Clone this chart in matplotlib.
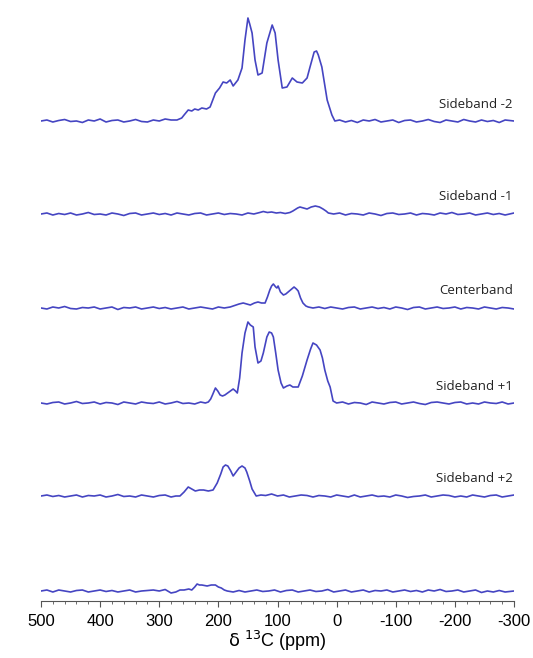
import matplotlib
matplotlib.use("Agg")
import matplotlib.pyplot as plt
from matplotlib.ticker import MultipleLocator

plt.rcParams['font.family'] = ['Liberation Sans Narrow', 'Liberation Sans', 'DejaVu Sans']
plt.rcParams['mathtext.fontset'] = 'custom'
plt.rcParams['mathtext.rm'] = 'Liberation Sans Narrow'
plt.rcParams['mathtext.it'] = 'Liberation Sans Narrow'
plt.rcParams['axes.unicode_minus'] = False

# (ppm, intensity), intensity in arbitrary units
sideband_m2 = [(500, 0), (490, 1), (480, -1), (470, 0.5), (460, 1.5), (450, -0.5), (440, 0), (430, -1.5),
               (420, 1), (410, 0), (400, 2), (390, -1), (380, 0.5), (370, 1), (360, -1), (350, 0),
               (340, 1.5), (330, -0.5), (320, -1), (310, 1), (300, 0), (290, 2), (280, 1), (270, 1),
               (262, 3), (258, 6), (251, 11), (245, 10), (240, 12), (234, 11), (228, 13), (220, 12),
               (214, 14), (205, 28), (198, 33), (192, 39), (186, 38), (180, 41), (175, 35), (167, 41),
               (160, 53), (155, 81), (150, 103), (147, 97), (143, 88), (138, 61), (133, 46), (126, 48),
               (118, 78), (109, 96), (104, 88), (99, 61), (92, 33), (84, 34), (75, 43), (67, 39),
               (58, 38), (50, 43), (45, 54), (38, 69), (34, 70), (31, 66), (25, 54), (16, 21), (8, 6),
               (3, 0), (-5, 1), (-15, -1), (-25, 0.5), (-35, -1.5), (-45, 1), (-55, 0), (-65, 1.5),
               (-75, -1), (-85, 0), (-95, 1), (-105, -1.5), (-115, 0.5), (-125, 1), (-135, -1),
               (-145, 0), (-155, 1.5), (-165, -0.5), (-175, -1.5), (-185, 1), (-195, 0), (-205, -1),
               (-215, 1.5), (-225, 0), (-235, -1), (-245, 1), (-255, -0.5), (-265, 0.5), (-275, -1.5),
               (-285, 1), (-300, 0)]
sideband_m1 = [(500, 0), (490, 1), (480, -1), (470, 0.5), (460, -0.5), (450, 1), (440, -1), (430, 0),
               (420, 1.5), (410, -0.5), (400, 0), (390, -1), (380, 1), (370, 0), (360, -1.5), (350, 0.5),
               (340, 1), (330, -1), (320, 0), (310, 1), (300, -0.5), (290, 0.5), (280, -1), (270, 1),
               (260, 0), (250, -1), (240, 0.5), (230, 1), (220, -1), (210, 0), (200, 1), (190, -0.5),
               (180, 0.5), (170, 0), (160, -1), (150, 1), (140, 0), (130, 1.5), (124, 2.5), (117, 1.5),
               (110, 2), (102, 1), (95, 1.5), (87, 0.5), (79, 1.5), (74, 3), (70, 4.5), (66, 6),
               (62, 7), (56, 6), (50, 5), (43, 7), (36, 8), (29, 7), (23, 5), (18, 3), (14, 1), (5, 0),
               (-5, 1), (-15, -1), (-25, 0.5), (-35, 0), (-45, -1), (-55, 1), (-65, 0), (-75, -1.5),
               (-85, 0.5), (-95, 1), (-105, -0.5), (-115, 0), (-125, 1), (-135, -1), (-145, 0.5),
               (-155, 0), (-165, -1), (-175, 1), (-185, 0), (-195, 1.5), (-205, -0.5), (-215, 0),
               (-225, 1), (-235, -1), (-245, 0), (-255, 1), (-265, -0.5), (-275, 0.5), (-285, -1),
               (-300, 1)]
centerband = [(500, 0), (490, -1), (480, 1), (470, 0), (460, 1.5), (450, -0.5), (440, -1), (430, 0.5),
              (420, 0), (410, 1), (400, -1), (390, 0), (380, 1), (370, -1.5), (360, 0.5), (350, 0),
              (340, 1), (330, -1), (320, 0), (310, 1), (300, -0.5), (290, 0.5), (280, -1), (270, 0),
              (260, 1), (250, -1), (240, 0), (230, 1), (220, 0), (210, -1), (200, 1), (190, 0),
              (180, 1), (175, 2), (170, 3), (165, 4), (158, 5), (152, 4), (146, 3), (139, 5),
              (133, 6), (127, 5), (121, 5), (117, 11), (113, 18), (110, 22), (107, 24), (103, 21),
              (101, 20), (99, 22), (95, 16), (90, 13), (86, 14), (82, 16), (76, 19), (72, 21),
              (68, 19), (65, 17), (61, 10), (57, 5), (52, 2), (48, 1), (40, 0), (30, 1), (20, -0.5),
              (10, 1), (0, 0), (-10, -1), (-20, 0.5), (-30, 1), (-40, -1), (-50, 0), (-60, 1),
              (-70, -0.5), (-80, 0.5), (-90, -1), (-100, 1), (-110, 0), (-120, -1.5), (-130, 0.5),
              (-140, 1), (-150, -1), (-160, 0), (-170, 1), (-180, -0.5), (-190, 0), (-200, 1),
              (-210, -1), (-220, 0.5), (-230, 0), (-240, -1), (-250, 1), (-260, 0), (-270, -1),
              (-280, 0.5), (-290, 0), (-300, -1)]
sideband_p1 = [(500, 0), (490, -1), (480, 0.5), (470, 1), (460, -1), (450, 0), (440, 1.5), (430, -0.5),
               (420, 0), (410, 1), (400, -1), (390, 0.5), (380, 0), (370, -1.5), (360, 1), (350, 0),
               (340, -1), (330, 1), (320, 0), (310, -0.5), (300, 1), (290, -1), (280, 0), (270, 1.5),
               (260, -0.5), (250, 0), (240, -1), (230, 1), (222, 0), (217, 1), (213, 4), (210, 8),
               (205, 15), (201, 12), (197, 8), (193, 7), (189, 8), (182, 11), (175, 14), (171, 12),
               (168, 10), (164, 25), (160, 50), (155, 70), (150, 81), (146, 78), (141, 76), (138, 56),
               (133, 40), (128, 42), (124, 50), (118, 66), (114, 71), (110, 70), (107, 66), (103, 50),
               (99, 33), (94, 20), (90, 15), (84, 17), (79, 18), (74, 16), (70, 16), (65, 16), (58, 27),
               (50, 43), (44, 54), (40, 60), (34, 58), (28, 53), (24, 45), (20, 33), (15, 22), (11, 16),
               (6, 2), (0, 0), (-10, 1), (-20, -1), (-30, 0.5), (-40, 0), (-50, -1.5), (-60, 1),
               (-70, 0), (-80, -1), (-90, 0.5), (-100, 1), (-110, -1), (-120, 0), (-130, 1),
               (-140, -0.5), (-150, -1.5), (-160, 0.5), (-170, 1), (-180, 0), (-190, -1), (-200, 0.5),
               (-210, 1), (-220, -1), (-230, 0), (-240, -1), (-250, 1), (-260, 0), (-270, -0.5),
               (-280, 1), (-290, -1), (-300, 0)]
sideband_p2 = [(500, 0), (490, 1), (480, -0.5), (470, 0.5), (460, -1), (450, 0), (440, 1), (430, -1),
               (420, 0.5), (410, 0), (400, 1), (390, -1), (380, 0), (370, 1.5), (360, -0.5), (350, 0),
               (340, -1), (330, 1), (320, 0), (310, -1), (300, 0.5), (290, 1), (280, -1), (272, 0),
               (265, 0), (258, 4), (251, 9), (245, 7), (239, 5), (232, 6), (225, 6), (217, 5),
               (209, 6), (202, 13), (196, 22), (192, 29), (188, 31), (184, 30), (179, 25), (175, 20),
               (170, 24), (165, 28), (160, 30), (155, 28), (152, 24), (147, 15), (143, 7), (136, 0),
               (128, 1), (120, 0.5), (110, 2), (100, 0), (90, 1), (80, -1), (70, 0), (60, 1), (50, 0.5),
               (40, -1), (30, 0.5), (20, 0), (10, -1), (0, 1), (-10, 0), (-20, -1), (-30, 1), (-40, -1),
               (-50, 0), (-60, 1), (-70, -0.5), (-80, 0), (-90, -1), (-100, 1), (-110, 0), (-120, -1.5),
               (-130, -0.5), (-140, 0), (-150, 1), (-160, -1), (-170, 0), (-180, 1), (-190, 0.5),
               (-200, -1), (-210, 0), (-220, -1), (-230, 1), (-240, 0), (-250, -1), (-260, 0.5),
               (-270, 1), (-280, -1), (-290, 0), (-300, 1)]
bottom_trace = [(500, 0), (490, 1), (480, -1), (470, 1), (460, 0), (450, -1), (440, 0.5), (430, 1),
                (420, -1), (410, 0), (400, 1), (390, -0.5), (380, 0.5), (370, -1), (360, 0), (350, 1),
                (340, -1), (330, 0), (320, 0.5), (310, 1), (300, 0), (290, 1.5), (280, -2), (272, -1),
                (265, 1), (258, 1), (250, 2), (245, 1), (240, 4), (236, 7), (232, 6), (228, 6),
                (219, 5), (212, 6), (205, 6), (200, 4), (195, 3), (190, 1), (185, 0), (175, -1),
                (165, 0.5), (155, -1), (145, 0), (135, 1), (125, -0.5), (115, 0), (105, 1), (95, -1),
                (85, 0.5), (75, 1), (65, -1), (55, 0), (45, 1), (35, -0.5), (25, 0), (15, 1.5), (5, -1),
                (-5, 0), (-15, 1), (-25, -1), (-35, 0), (-45, 1), (-55, -1), (-65, 0.5), (-75, 0),
                (-85, 1), (-95, -1), (-105, 0), (-115, 1), (-125, -0.5), (-135, 0.5), (-145, -1),
                (-155, 1), (-165, 0), (-175, 1.5), (-185, -0.5), (-195, 0), (-205, 1), (-215, -1),
                (-225, 0), (-235, 1), (-245, -1.5), (-255, 0), (-265, -1), (-275, 0.5), (-285, -1),
                (-300, 0)]

traces = [sideband_m2, sideband_m1, centerband, sideband_p1, sideband_p2, bottom_trace]
labels = ["Sideband -2", "Sideband -1", "Centerband", "Sideband +1", "Sideband +2", ""]
offsets = [480, 387, 293, 198, 105, 10]

fig = plt.figure(figsize=(5.33, 6.58), dpi=100)
ax = fig.add_axes([41 / 533, 57 / 658, 473 / 533, 591 / 658])

for data, lab, off in zip(traces, labels, offsets):
    ppm, inten = zip(*data)
    ax.plot(ppm, [v + off for v in inten], color="#4545c2", lw=1.2)
    if lab:
        ax.text(-298, off + 17, lab, ha="right", va="center", fontsize=9.5,
                family=["Open Sans", "DejaVu Sans"], color="#222222")

ax.set_xlim(500, -300)
ax.set_ylim(0, 591)
for s in ["top", "left", "right"]:
    ax.spines[s].set_visible(False)
ax.spines["bottom"].set_color("#555555")
ax.spines["bottom"].set_linewidth(0.8)
ax.set_yticks([])
ax.xaxis.set_major_locator(MultipleLocator(100))
ax.xaxis.set_minor_locator(MultipleLocator(20))
ax.tick_params(axis="x", which="major", length=4, width=0.8, color="#555555", labelsize=12, pad=5)
ax.tick_params(axis="x", which="minor", length=2, width=0.6, color="#555555")
ax.set_xlabel(r"$\delta$ $^{13}$C (ppm)", fontsize=13, labelpad=0)

fig.savefig("out.png", dpi=100)
